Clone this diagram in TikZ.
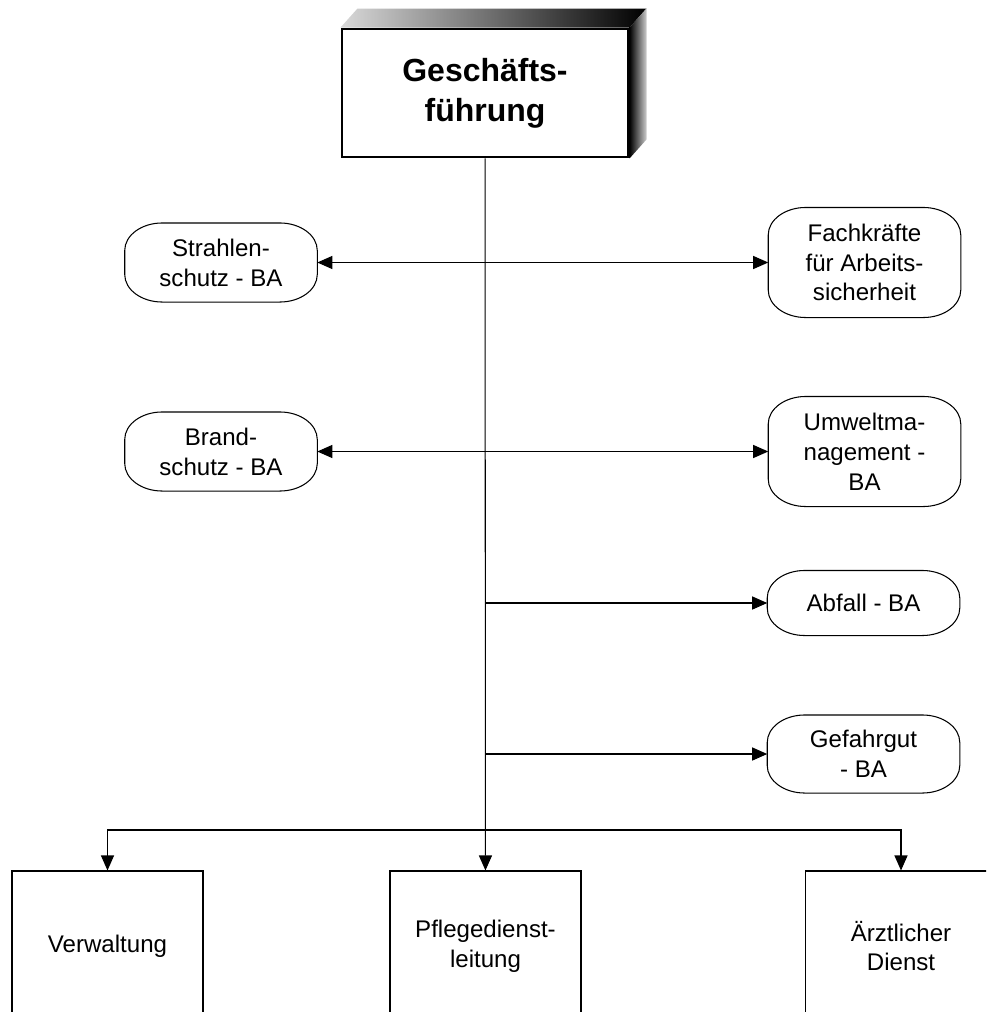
\documentclass[tikz,border=0pt]{standalone}
\usepackage{fontspec}
\setmainfont{Liberation Sans}
\usetikzlibrary{arrows.meta,calc}

\begin{document}
\begin{tikzpicture}[line width=0.6pt,>={Triangle[length=3mm,width=2.6mm]},
    txt/.style={font=\fontsize{13.7}{17}\selectfont,align=center},
    pill/.style={txt,minimum width=3.83cm,inner sep=0pt},
    unit/.style={txt,draw,minimum width=3.82cm,minimum height=3cm,inner sep=0pt},
    corner/.style={x radius=0.75cm,y radius=0.55cm}]
        \clip (0,0) rectangle (19.72,-20.24);

        % head of the organisation
        \node[draw,line width=1.7pt,minimum width=5.72cm,minimum height=2.56cm,align=center,
              font=\fontsize{18.2}{22.8}\selectfont\bfseries] (gf) at (9.70,-1.86) {Geschäfts-\\führung};
        \shade[left color=gray!30,right color=black] (gf.north west) -- ++(0.34,0.38)
              -- ($(gf.north east)+(0.34,0.38)$) -- (gf.north east) -- cycle;
        \shade[left color=black,right color=gray!40] (gf.north east) -- ++(0.34,0.38)
              -- ($(gf.south east)+(0.34,0.38)$) -- (gf.south east) -- cycle;

        % staff functions
        \node[pill,minimum height=1.56cm] (strahlen) at (4.42,-5.25) {Strahlen-\\schutz - BA};
        \node[pill,minimum height=2.18cm] (fasi) at (17.29,-5.25) {Fachkräfte\\für Arbeits-\\sicherheit};
        \node[pill,minimum height=1.56cm] (brand) at (4.42,-9.03) {Brand-\\schutz - BA};
        \node[pill,minimum height=2.18cm] (umwelt) at (17.29,-9.03) {Umweltma-\\nagement -\\BA};
        \node[pill,minimum height=1.28cm] (abfall) at (17.27,-12.06) {Abfall - BA};
        \node[pill,minimum height=1.54cm] (gefahr) at (17.27,-15.08) {Gefahrgut\\- BA};
        \foreach \n in {strahlen,fasi,brand,umwelt,abfall,gefahr}
            \draw ($(\n.north west)+(0.75,0)$) -- ($(\n.north east)+(-0.75,0)$)
                  arc[start angle=90,end angle=0,corner] -- ($(\n.south east)+(0,0.55)$)
                  arc[start angle=0,end angle=-90,corner] -- ($(\n.south west)+(0.75,0)$)
                  arc[start angle=270,end angle=180,corner] -- ($(\n.north west)+(0,-0.55)$)
                  arc[start angle=180,end angle=90,corner] -- cycle;

        % line units
        \node[unit] (verw) at (2.15,-18.92) {Verwaltung};
        \node[unit] (pflege) at (9.71,-18.92) {Pflegedienst-\\leitung};
        \node[unit] (arzt) at (18.02,-18.92) {Ärztlicher\\Dienst};
        \coordinate (split) at (9.70,-16.60);

        \draw[->] (gf) -- (pflege);
        \draw[<->] (strahlen) -- (fasi);
        \draw[<->] (brand) -- (umwelt);
        \draw[->] (abfall -| gf) -- (abfall);
        \draw[->] (gefahr -| gf) -- (gefahr);
        \draw[->] (split) -| (verw);
        \draw[->] (split) -| (arzt);
\end{tikzpicture}
\end{document}
